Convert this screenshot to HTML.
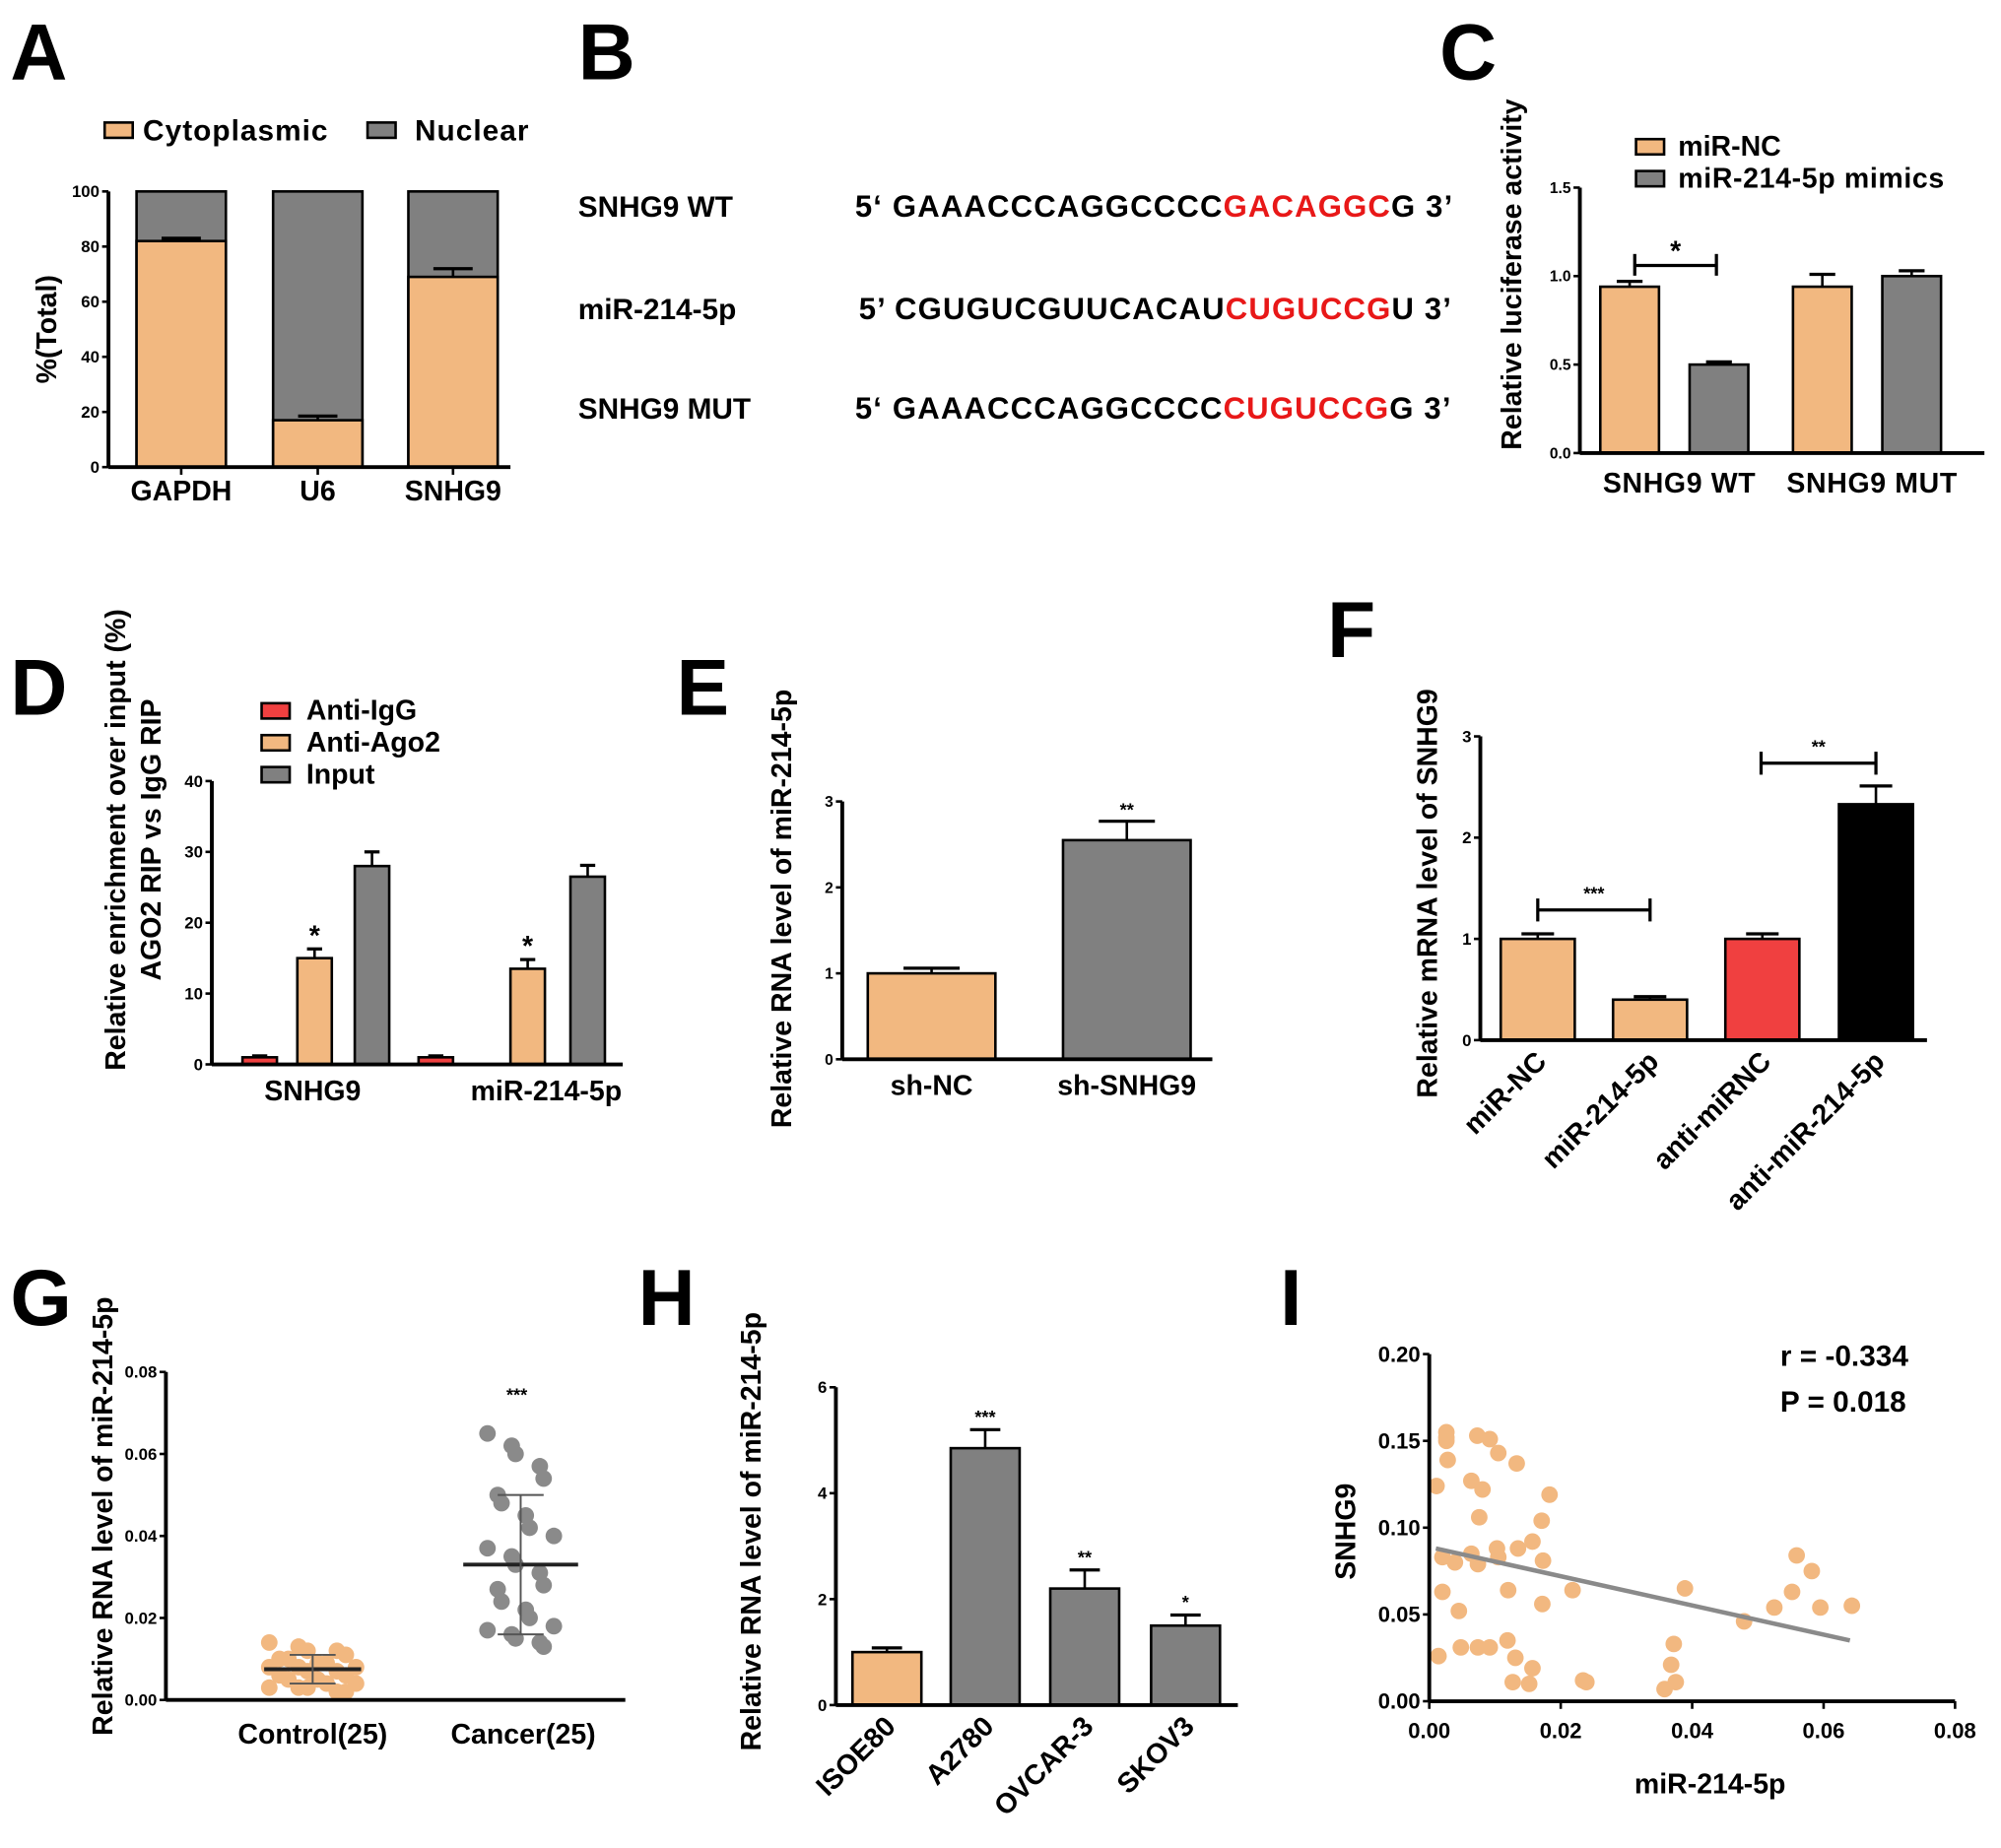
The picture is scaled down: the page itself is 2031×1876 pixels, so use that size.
<!DOCTYPE html>
<html><head><meta charset="utf-8"><style>
html,body{margin:0;padding:0;background:#fff;}
svg{display:block;font-family:"Liberation Sans",Arial,sans-serif;font-weight:bold;}
</style></head><body>
<svg id="fig" width="2031" height="1876" viewBox="0 0 1568 1448" preserveAspectRatio="none" xmlns="http://www.w3.org/2000/svg">
<g id="root"></g>
</svg>
<script>
// ---------- DATA ----------
const aCats=["GAPDH","U6","SNHG9"];
const aCyto=[82,17,69];
const aCytoErr=[1,1.5,3];
const aTicks=[0,20,40,60,80,100];

const cGroups=["SNHG9 WT","SNHG9 MUT"];
const cNC=[0.94,0.94];
const cNCErr=[0.03,0.07];
const cMim=[0.50,1.00];
const cMimErr=[0.015,0.03];
const cTicks=[0,0.5,1.0,1.5];

const dGroups=["SNHG9","miR-214-5p"];
const dIgG=[1.0,1.0];
const dAgo=[15,13.5];
const dAgoErr=[1.3,1.3];
const dInput=[28,26.5];
const dInputErr=[2,1.6];
const dTicks=[0,10,20,30,40];

const eCats=["sh-NC","sh-SNHG9"];
const eVals=[1.0,2.55];
const eErr=[0.06,0.22];
const eTicks=[0,1,2,3];

const fCats=["miR-NC","miR-214-5p","anti-miRNC","anti-miR-214-5p"];
const fVals=[1.0,0.4,1.0,2.33];
const fErr=[0.05,0.03,0.05,0.18];
const fTicks=[0,1,2,3];

const gControl=[0.014,0.013,0.012,0.012,0.011,0.010,0.010,0.009,0.009,0.008,0.008,0.008,0.007,0.007,0.006,0.006,0.005,0.005,0.004,0.004,0.003,0.003,0.003,0.002,0.002];
const gCancer=[0.065,0.062,0.060,0.057,0.054,0.050,0.048,0.045,0.042,0.040,0.037,0.035,0.033,0.031,0.028,0.027,0.024,0.022,0.020,0.018,0.017,0.016,0.015,0.014,0.013];
const gMean=[0.0075,0.033];
const gSD=[0.0035,0.017];
const gTicks=[0,0.02,0.04,0.06,0.08];

const hCats=["ISOE80","A2780","OVCAR-3","SKOV3"];
const hVals=[1.0,4.85,2.2,1.5];
const hErr=[0.08,0.35,0.35,0.2];
const hSig=["","***","**","*"];
const hTicks=[0,2,4,6];

const iX=[.0026,.0026,.0026,.0028,.0011,.0073,.0092,.0105,.0133,.0064,.0081,.0183,.0076,.0171,.0157,.0103,.0105,.0135,.0020,.0039,.0064,.0074,.0173,.0020,.0120,.0218,.0172,.0045,.0014,.0048,.0074,.0092,.0119,.0131,.0157,.0127,.0152,.0234,.0239,.0358,.0368,.0372,.0375,.0389,.0479,.0525,.0552,.0559,.0582,.0595,.0643];
const iY=[.155,.152,.150,.139,.124,.153,.151,.143,.137,.127,.122,.119,.106,.104,.092,.088,.083,.088,.083,.080,.085,.079,.081,.063,.064,.064,.056,.052,.026,.031,.031,.031,.035,.025,.019,.011,.010,.012,.011,.007,.021,.033,.011,.065,.046,.054,.063,.084,.075,.054,.055];
const iFit=[[0.001,0.088],[0.064,0.035]];
const iXTicks=[0,0.02,0.04,0.06,0.08];
const iYTicks=[0,0.05,0.10,0.15,0.20];

// ---------- HELPERS ----------
const NS="http://www.w3.org/2000/svg";
const root=document.getElementById('root');
const OR="#F2B880", GR="#808080", RD="#F04040";
function el(tag,attrs,parent,txt){const e=document.createElementNS(NS,tag);for(const k in attrs)e.setAttribute(k,attrs[k]);if(txt!==undefined)e.textContent=txt;(parent||root).appendChild(e);return e;}
function grp(name){const g=document.createElementNS(NS,'g');


root.appendChild(g);return g;}
function txt(g,x,y,s,size,name,opts){opts=opts||{};const t=el('text',{x:x,y:y,'font-size':size,'text-anchor':opts.anchor||'start',fill:opts.fill||'#000'},g,s);


if(opts.ls)t.setAttribute('letter-spacing',opts.ls);
if(opts.rot!==undefined)t.setAttribute('transform','rotate('+opts.rot+' '+x+' '+y+')');return t;}
function lin(d0,d1,r0,r1){return v=>r0+(v-d0)/(d1-d0)*(r1-r0);}
function yAxis(g,x,y,ticks,fmt,size){el('line',{x1:x,y1:y(ticks[0]),x2:x,y2:y(ticks[ticks.length-1]),stroke:'#000','stroke-width':3},g);
ticks.forEach(t=>{el('line',{x1:x-5,y1:y(t),x2:x,y2:y(t),stroke:'#000','stroke-width':2},g);txt(g,x-7,y(t)+size*0.35,fmt(t),size,'y-tick-label',{anchor:'end'});});}
function bar(g,x0,w,y,v,fill,name,err){const r=el('rect',{x:x0,y:y(v),width:w,height:y(0)-y(v),fill:fill,stroke:'#000','stroke-width':2},g);


if(err){const cx=x0+w/2;el('line',{x1:cx,y1:y(v),x2:cx,y2:y(v+err),stroke:'#000','stroke-width':2},g);el('line',{x1:cx-w*0.22,y1:y(v+err),x2:cx+w*0.22,y2:y(v+err),stroke:'#000','stroke-width':2.5},g);}}
function letter(s,x,y){const g=grp('panel-label-'+s.toLowerCase());txt(g,x,y,s,62,'panel-letter');}
function swatch(g,x,y,fill,name){const r=el('rect',{x:x,y:y,width:22,height:12,fill:fill,stroke:'#000','stroke-width':2},g);

}

// ---------- PANEL A ----------
letter('A',8,62);
(function(){const g=grp('panel-a-chart');const y=lin(0,100,366,150);
swatch(g,82,96,OR,'legend-swatch-cytoplasmic');txt(g,112,110,'Cytoplasmic',23,'legend-entry',{ls:0.8});
swatch(g,288,96,GR,'legend-swatch-nuclear');txt(g,325,110,'Nuclear',23,'legend-entry',{ls:0.8});
const xs=[107,214,320],w=70;
aCats.forEach((c,i)=>{bar(g,xs[i],w,y,100,GR,'bar-nuclear-'+c);bar(g,xs[i],w,y,aCyto[i],OR,'bar-cyto-'+c,aCytoErr[i]);
txt(g,xs[i]+w/2,392,c,22,'x-tick-label',{anchor:'middle'});
el('line',{x1:xs[i]+w/2,y1:366,x2:xs[i]+w/2,y2:372,stroke:'#000','stroke-width':2},g);});
yAxis(g,85,y,aTicks,t=>t,13);
el('line',{x1:85,y1:366,x2:400,y2:366,stroke:'#000','stroke-width':3},g);
txt(g,44,258,'%(Total)',22,'y-axis-title',{anchor:'middle',rot:-90});})();

// ---------- PANEL B ----------
letter('B',453,62);
(function(){const g=grp('panel-b-sequences');
const rows=[["SNHG9 WT",170,"5‘ GAAACCCAGGCCCC","GACAGGC","G 3’",670],["miR-214-5p",250,"5’ CGUGUCGUUCACAU","CUGUCCG","U 3’",673],["SNHG9 MUT",328,"5‘ GAAACCCAGGCCCC","CUGUCCG","G 3’",670]];
rows.forEach(r=>{txt(g,453,r[1],r[0],23,'sequence-name');
const t=el('text',{x:r[5],y:r[1],'font-size':24,fill:'#000','letter-spacing':0.9},g);


el('tspan',{},t,r[2]);el('tspan',{fill:'#E81818'},t,r[3]);el('tspan',{},t,r[4]);});})();

// ---------- PANEL C ----------
letter('C',1128,62);
(function(){const g=grp('panel-c-chart');const y=lin(0,1.5,355,147);
swatch(g,1282,109,OR,'legend-swatch-mir-nc');txt(g,1315,122,'miR-NC',22,'legend-entry');
swatch(g,1282,134,GR,'legend-swatch-mimics');txt(g,1315,147,'miR-214-5p mimics',22,'legend-entry',{ls:0.5});
const gx=[1254,1405],w=46;
cGroups.forEach((c,i)=>{bar(g,gx[i],w,y,cNC[i],OR,'bar-mir-nc-'+i,cNCErr[i]);bar(g,gx[i]+70,w,y,cMim[i],GR,'bar-mimics-'+i,cMimErr[i]);
txt(g,gx[i]+62,386,c,22,'x-tick-label',{anchor:'middle',ls:0.5});});
yAxis(g,1238,y,cTicks,t=>t.toFixed(1),12);
el('line',{x1:1238,y1:355,x2:1555,y2:355,stroke:'#000','stroke-width':3},g);
el('line',{x1:1281,y1:208,x2:1345,y2:208,stroke:'#000','stroke-width':2.5},g);
el('line',{x1:1281,y1:199,x2:1281,y2:216,stroke:'#000','stroke-width':2.5},g);
el('line',{x1:1345,y1:199,x2:1345,y2:216,stroke:'#000','stroke-width':2.5},g);
txt(g,1313,204,'*',22,'significance-marker',{anchor:'middle'});
txt(g,1192,215,'Relative luciferase activity',22,'y-axis-title',{anchor:'middle',rot:-90});})();

// ---------- PANEL D ----------
letter('D',8,560);
(function(){const g=grp('panel-d-chart');const y=lin(0,40,834,612);
[[RD,'Anti-IgG',562],[OR,'Anti-Ago2',587],[GR,'Input',612]].forEach(l=>{swatch(g,205,l[2]-11,l[0],'legend-swatch');txt(g,240,l[2]+2,l[1],22,'legend-entry');});
const gx=[190,328];
dGroups.forEach((c,i)=>{const o=i?[0,72,119]:[0,43,88];
bar(g,gx[i]+o[0],27,y,dIgG[i],RD,'bar-anti-igg-'+c,0.2);
bar(g,gx[i]+o[1],27,y,dAgo[i],OR,'bar-anti-ago2-'+c,dAgoErr[i]);
txt(g,gx[i]+o[1]+13.5,y(dAgo[i]+dAgoErr[i])-3,'*',22,'significance-marker',{anchor:'middle'});
bar(g,gx[i]+o[2],27,y,dInput[i],GR,'bar-input-'+c,dInputErr[i]);});
txt(g,245,862,'SNHG9',22,'x-tick-label',{anchor:'middle'});
txt(g,428,862,'miR-214-5p',22,'x-tick-label',{anchor:'middle'});
yAxis(g,166,y,dTicks,t=>t,13);
el('line',{x1:166,y1:834,x2:488,y2:834,stroke:'#000','stroke-width':3},g);
txt(g,98,658,'Relative enrichment over input (%)',22,'y-axis-title',{anchor:'middle',rot:-90});
txt(g,126,658,'AGO2 RIP vs IgG RIP',22,'y-axis-title-line2',{anchor:'middle',rot:-90});})();

// ---------- PANEL E ----------
letter('E',530,560);
(function(){const g=grp('panel-e-chart');const y=lin(0,3,830,628);
const xs=[680,833],w=100;
eCats.forEach((c,i)=>{bar(g,xs[i],w,y,eVals[i],i?GR:OR,'bar-'+c,eErr[i]);txt(g,xs[i]+w/2,858,c,22,'x-tick-label',{anchor:'middle'});});
txt(g,883,y(eVals[1]+eErr[1])-4,'**',14,'significance-marker',{anchor:'middle'});
yAxis(g,660,y,eTicks,t=>t,12);
el('line',{x1:660,y1:830,x2:950,y2:830,stroke:'#000','stroke-width':3},g);
txt(g,620,712,'Relative RNA level of miR-214-5p',22,'y-axis-title',{anchor:'middle',rot:-90});})();

// ---------- PANEL F ----------
letter('F',1040,515);
(function(){const g=grp('panel-f-chart');const y=lin(0,3,815,577);
const xs=[1176,1264,1352,1441],w=58,fills=[OR,OR,RD,'#000'];
fCats.forEach((c,i)=>{bar(g,xs[i],w,y,fVals[i],fills[i],'bar-'+c,fErr[i]);txt(g,xs[i]+w/2+8,833,c,22,'x-tick-label',{anchor:'end',rot:-45});});
yAxis(g,1160,y,fTicks,t=>t,13);
el('line',{x1:1160,y1:815,x2:1510,y2:815,stroke:'#000','stroke-width':3},g);
[[1205,1293,713,'***'],[1380,1470,598,'**']].forEach(b=>{el('line',{x1:b[0],y1:b[2],x2:b[1],y2:b[2],stroke:'#000','stroke-width':2.5},g);
el('line',{x1:b[0],y1:b[2]-9,x2:b[0],y2:b[2]+9,stroke:'#000','stroke-width':2.5},g);el('line',{x1:b[1],y1:b[2]-9,x2:b[1],y2:b[2]+9,stroke:'#000','stroke-width':2.5},g);
txt(g,(b[0]+b[1])/2,b[2]-8,b[3],14,'significance-marker',{anchor:'middle'});});
txt(g,1126,700,'Relative mRNA level of SNHG9',22,'y-axis-title',{anchor:'middle',rot:-90});})();

// ---------- PANEL G ----------
letter('G',8,1038);
(function(){const g=grp('panel-g-chart');const y=lin(0,0.08,1332,1075);
const cx=[245,408];
[gControl,gCancer].forEach((arr,k)=>{arr.forEach((v,i)=>{const sp=k?11:15;const off=((i%5)-2)*sp+((i%2)?4:-4);
const c=el('circle',{cx:cx[k]+off,cy:y(v),r:6.5,fill:k?'#8A8A8A':OR},g);

});
const m=gMean[k],s=gSD[k],hw=k?45:38;
el('line',{x1:cx[k]-hw,y1:y(m),x2:cx[k]+hw,y2:y(m),stroke:'#222','stroke-width':3},g);
el('line',{x1:cx[k],y1:y(m-s),x2:cx[k],y2:y(m+s),stroke:'#555','stroke-width':1.5},g);
el('line',{x1:cx[k]-18,y1:y(m-s),x2:cx[k]+18,y2:y(m-s),stroke:'#555','stroke-width':1.5},g);
el('line',{x1:cx[k]-18,y1:y(m+s),x2:cx[k]+18,y2:y(m+s),stroke:'#555','stroke-width':1.5},g);});
txt(g,405,1098,'***',14,'significance-marker',{anchor:'middle'});
yAxis(g,130,y,gTicks,t=>t.toFixed(2),13);
el('line',{x1:130,y1:1332,x2:490,y2:1332,stroke:'#000','stroke-width':3},g);
txt(g,245,1366,'Control(25)',22,'x-tick-label',{anchor:'middle'});
txt(g,410,1366,'Cancer(25)',22,'x-tick-label',{anchor:'middle'});
txt(g,88,1188,'Relative RNA level of miR-214-5p',22,'y-axis-title',{anchor:'middle',rot:-90});})();

// ---------- PANEL H ----------
letter('H',500,1038);
(function(){const g=grp('panel-h-chart');const y=lin(0,6,1336,1087);
const xs=[668,745,823,902],w=54;
hCats.forEach((c,i)=>{bar(g,xs[i],w,y,hVals[i],i?GR:OR,'bar-'+c,hErr[i]);
if(hSig[i])txt(g,xs[i]+w/2,y(hVals[i]+hErr[i])-5,hSig[i],14,'significance-marker',{anchor:'middle'});
txt(g,xs[i]+w/2+8,1354,c,22,'x-tick-label',{anchor:'end',rot:-45});});
yAxis(g,655,y,hTicks,t=>t,13);
el('line',{x1:655,y1:1336,x2:970,y2:1336,stroke:'#000','stroke-width':3},g);
txt(g,596,1200,'Relative RNA level of miR-214-5p',22,'y-axis-title',{anchor:'middle',rot:-90});})();

// ---------- PANEL I ----------
letter('I',1003,1038);
(function(){const g=grp('panel-i-chart');const x=lin(0,0.08,1120,1532);const y=lin(0,0.2,1333,1061);
iX.forEach((v,i)=>{const c=el('circle',{cx:x(v),cy:y(iY[i]),r:6.5,fill:OR},g);

});
const f=el('line',{x1:x(iFit[0][0]),y1:y(iFit[0][1]),x2:x(iFit[1][0]),y2:y(iFit[1][1]),stroke:'#8a8a8a','stroke-width':3.5},g);


yAxis(g,1120,y,iYTicks,t=>t.toFixed(2),17);
el('line',{x1:1120,y1:1333,x2:1532,y2:1333,stroke:'#000','stroke-width':3},g);
iXTicks.forEach(t=>{el('line',{x1:x(t),y1:1333,x2:x(t),y2:1339,stroke:'#000','stroke-width':2},g);txt(g,x(t),1362,t.toFixed(2),17,'x-tick-label',{anchor:'middle'});});
txt(g,1340,1405,'miR-214-5p',22,'x-axis-title',{anchor:'middle'});
txt(g,1062,1200,'SNHG9',22,'y-axis-title',{anchor:'middle',rot:-90});
txt(g,1395,1070,'r = -0.334',23,'stat-r');
txt(g,1395,1106,'P = 0.018',23,'stat-p');})();
</script>
</body></html>
